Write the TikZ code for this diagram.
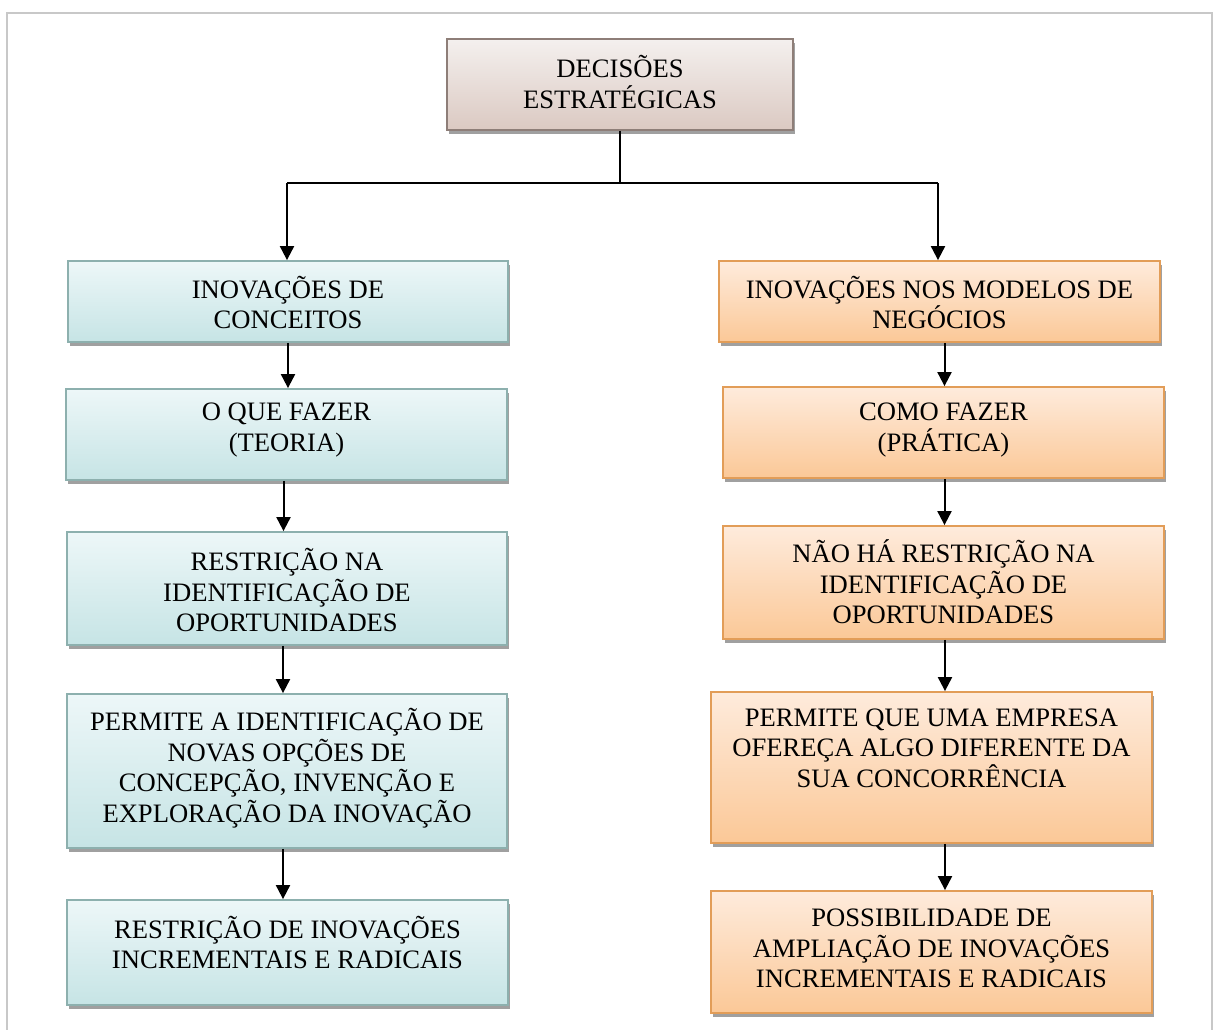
\documentclass[tikz,border=0pt]{standalone}
\usepackage{fontspec}
\setmainfont{Liberation Serif}
\usetikzlibrary{arrows.meta,shadows}

\definecolor{frameGray}{HTML}{C8C8C8}
\definecolor{topTop}{HTML}{F4F0EE}
\definecolor{topBot}{HTML}{DBC9C2}
\definecolor{topLine}{HTML}{8E7E78}
\definecolor{blueTop}{HTML}{EDF7F8}
\definecolor{blueBot}{HTML}{C6E4E5}
\definecolor{blueLine}{HTML}{8DB0AE}
\definecolor{orTop}{HTML}{FEEBDC}
\definecolor{orBot}{HTML}{FBC897}
\definecolor{orLine}{HTML}{E29D58}
\definecolor{shadowGray}{HTML}{A0A0A0}

\tikzset{
  x=1pt, y=1pt,
  boxbase/.style={rectangle, line width=1.8pt, shading=axis, shading angle=0,
    drop shadow={shadow xshift=2pt, shadow yshift=-4pt, fill=shadowGray, opacity=1}},
  topbox/.style={boxbase, draw=topLine, top color=topTop, bottom color=topBot},
  bluebox/.style={boxbase, draw=blueLine, top color=blueTop, bottom color=blueBot},
  orbox/.style={boxbase, draw=orLine, top color=orTop, bottom color=orBot},
  label text/.style={align=center, inner sep=0pt,
    font=\fontsize{26.6}{30.6}\selectfont},
  link/.style={line width=1.6pt},
  arrowlink/.style={line width=2pt, -{Triangle[width=14pt,length=14pt]}},
}

\begin{document}
\begin{tikzpicture}
\useasboundingbox (0,0) rectangle (1213,-1030);

% open frame around the chart
\draw[frameGray, line width=2pt] (7,-1030) -- (7,-13) -- (1212,-13) -- (1212,-1030);

% root
\node[topbox, minimum width=346, minimum height=91] (top) at (620,-84.5) {};
\node[label text] (topt) at (620,-82) {DECISÕES\\ESTRATÉGICAS};

% left column
\node[bluebox, minimum width=440, minimum height=81] (l1) at (288,-301.5) {};
\node[label text] (l1t) at (288,-302.5) {INOVAÇÕES DE\\CONCEITOS};

\node[bluebox, minimum width=441, minimum height=91] (l2) at (286.5,-434.5) {};
\node[label text] (l2t) at (286.5,-430) {O QUE FAZER\\(TEORIA)};

\node[bluebox, minimum width=440, minimum height=113] (l3) at (287,-588.5) {};
\node[label text] (l3t) at (287,-590) {RESTRIÇÃO NA\\IDENTIFICAÇÃO DE\\OPORTUNIDADES};

\node[bluebox, minimum width=440, minimum height=154] (l4) at (287,-771) {};
\node[label text] (l4t) at (287,-768) {PERMITE A IDENTIFICAÇÃO DE\\NOVAS OPÇÕES DE\\CONCEPÇÃO, INVENÇÃO E\\EXPLORAÇÃO DA INOVAÇÃO};

\node[bluebox, minimum width=441, minimum height=105] (l5) at (287.5,-952.5) {};
\node[label text] (l5t) at (287.5,-942.5) {RESTRIÇÃO DE INOVAÇÕES\\INCREMENTAIS E RADICAIS};

% right column
\node[orbox, minimum width=441, minimum height=81] (r1) at (939.5,-301.5) {};
\node[label text] (r1t) at (939.5,-302.5) {INOVAÇÕES NOS MODELOS DE\\NEGÓCIOS};

\node[orbox, minimum width=441, minimum height=91] (r2) at (943.5,-432.5) {};
\node[label text] (r2t) at (943.5,-430) {COMO FAZER\\(PRÁTICA)};

\node[orbox, minimum width=441, minimum height=113] (r3) at (943.5,-582.5) {};
\node[label text] (r3t) at (943.5,-582) {NÃO HÁ RESTRIÇÃO NA\\IDENTIFICAÇÃO DE\\OPORTUNIDADES};

\node[orbox, minimum width=441, minimum height=151] (r4) at (931.5,-767.5) {};
\node[label text] (r4t) at (931.5,-748) {PERMITE QUE UMA EMPRESA\\OFEREÇA ALGO DIFERENTE DA\\SUA CONCORRÊNCIA};

\node[orbox, minimum width=441, minimum height=122] (r5) at (931.5,-952) {};
\node[label text] (r5t) at (931.5,-948.5) {POSSIBILIDADE DE\\AMPLIAÇÃO DE INOVAÇÕES\\INCREMENTAIS E RADICAIS};

% branching from the root
\coordinate (split) at (620,-183);
\coordinate (splitL) at (287,-183);
\coordinate (splitR) at (938,-183);
\draw[link] (top.south) -- (split);
\draw[link] (splitL) -- (splitR);
\draw[arrowlink] (splitL) -- (splitL |- l1.north);
\draw[arrowlink] (splitR) -- (splitR |- r1.north);

% left chain
\draw[arrowlink] (l1.south) -- (l1.south |- l2.north);
\draw[arrowlink] ([xshift=-3]l2.south) -- ([xshift=-3]l2.south |- l3.north);
\draw[arrowlink] ([xshift=-4]l3.south) -- ([xshift=-4]l3.south |- l4.north);
\draw[arrowlink] ([xshift=-4]l4.south) -- ([xshift=-4]l4.south |- l5.north);

% right chain
\draw[arrowlink] ([xshift=5]r1.south) -- ([xshift=5]r1.south |- r2.north);
\draw[arrowlink] ([xshift=1]r2.south) -- ([xshift=1]r2.south |- r3.north);
\draw[arrowlink] ([xshift=1.5]r3.south) -- ([xshift=1.5]r3.south |- r4.north);
\draw[arrowlink] ([xshift=13.5]r4.south) -- ([xshift=13.5]r4.south |- r5.north);
\end{tikzpicture}
\end{document}
